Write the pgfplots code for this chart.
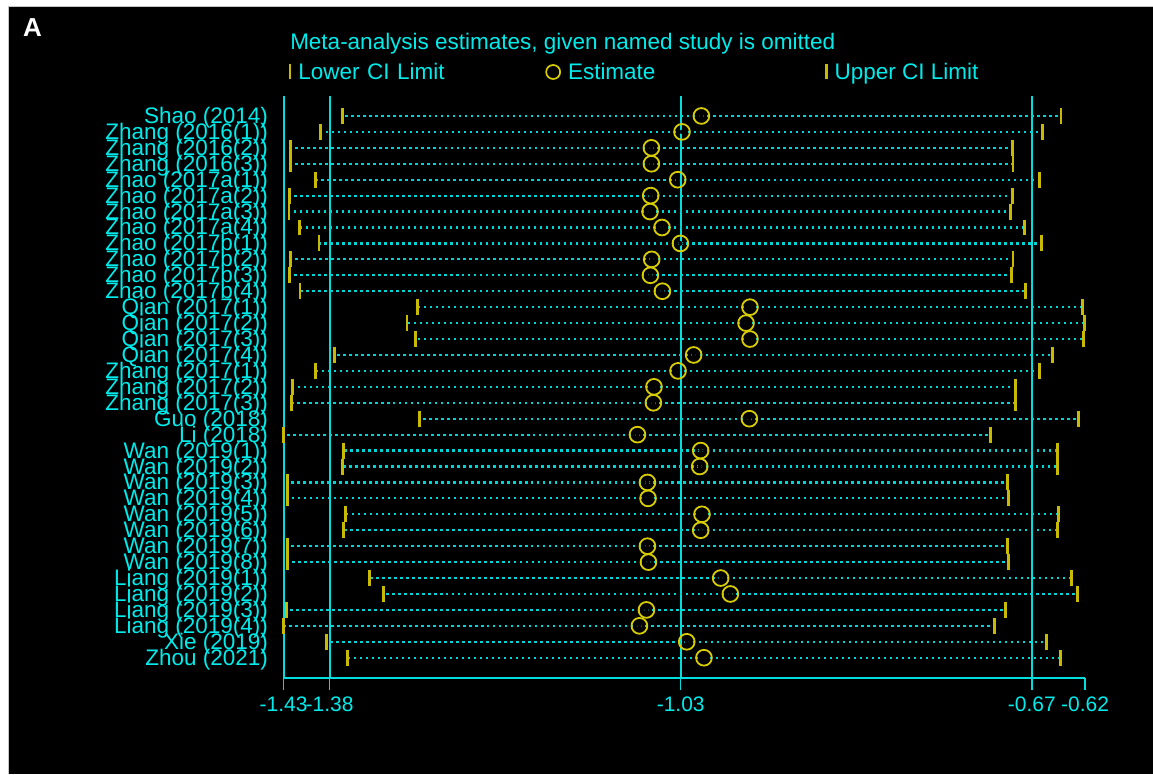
\documentclass[border=0pt]{standalone}
\usepackage{fontspec}
\setmainfont{Liberation Sans}
\usepackage{pgfplots}
\usepackage{pgfplotstable}
\pgfplotsset{compat=1.18}
\definecolor{cyanL}{RGB}{0,222,222}
\definecolor{dotc}{RGB}{0,212,212}
\definecolor{textc}{RGB}{0,235,235}
\definecolor{barc}{RGB}{200,186,0}
\definecolor{circc}{RGB}{215,205,0}

\pgfplotstableread{
row lo est up
1 -1.3704 -1.0078 -0.6445
2 -1.3926 -1.0274 -0.6627
3 -1.4233 -1.0583 -0.6933
4 -1.4233 -1.0583 -0.6930
5 -1.3974 -1.0317 -0.6661
6 -1.4239 -1.0590 -0.6936
7 -1.4246 -1.0597 -0.6951
8 -1.4142 -1.0476 -0.6809
9 -1.3943 -1.0290 -0.6640
10 -1.4233 -1.0580 -0.6930
11 -1.4243 -1.0593 -0.6943
12 -1.4135 -1.0472 -0.6805
13 -1.2946 -0.9587 -0.6229
14 -1.3052 -0.9627 -0.6206
15 -1.2967 -0.9587 -0.6216
16 -1.3782 -1.0156 -0.6529
17 -1.3974 -1.0314 -0.6658
18 -1.4213 -1.0557 -0.6900
19 -1.4223 -1.0563 -0.6906
20 -1.2923 -0.9593 -0.6267
21 -1.4300 -1.0724 -0.7153
22 -1.3694 -1.0085 -0.6479
23 -1.3708 -1.0095 -0.6479
24 -1.4264 -1.0623 -0.6984
25 -1.4264 -1.0617 -0.6974
26 -1.3678 -1.0072 -0.6466
27 -1.3694 -1.0085 -0.6476
28 -1.4264 -1.0623 -0.6984
29 -1.4260 -1.0613 -0.6971
30 -1.3431 -0.9883 -0.6334
31 -1.3294 -0.9785 -0.6274
32 -1.4270 -1.0633 -0.7001
33 -1.4297 -1.0704 -0.7112
34 -1.3870 -1.0226 -0.6587
35 -1.3651 -1.0052 -0.6448
}\datatable

\begin{document}
\begin{tikzpicture}[x=1pt,y=1pt]
\fill[white] (0,0) rectangle (1153,774);
\fill[black] (9,0) rectangle (1153,767);
\draw[gray!45, line width=1pt] (9,0) -- (9,767) -- (1153,767);
\node[anchor=base west, inner sep=0pt, text=white, font=\fontsize{26}{26}\selectfont\bfseries] at (23,737) {A};
\node[anchor=base, inner sep=0pt, text=textc, font=\fontsize{22.5}{22.5}\selectfont] at (563,724) {Meta-analysis estimates, given named study is omitted};
\begin{axis}[
  at={(283.7pt,96pt)}, anchor=south west,
  scale only axis, width=801.8pt, height=582pt,
  xmin=-1.43, xmax=-0.6201, ymin=-0.255, ymax=36.255, y dir=reverse,
  axis x line*=bottom, axis y line*=left,
  axis line style={cyanL, line width=2pt, -},
  xtick={-1.43,-1.3835,-1.0287,-0.6738,-0.6201},
  xticklabels={-1.43,-1.38,-1.03,-0.67,-0.62},
  tick align=outside, major tick length=12pt,
  x tick style={cyanL, line width=1.5pt},
  y tick style={draw=none},
  ytick={1,...,35},
  yticklabels={{Shao (2014)},{Zhang (2016(1))},{Zhang (2016(2))},{Zhang (2016(3))},{Zhao (2017a(1))},{Zhao (2017a(2))},{Zhao (2017a(3))},{Zhao (2017a(4))},{Zhao (2017b(1))},{Zhao (2017b(2))},{Zhao (2017b(3))},{Zhao (2017b(4))},{Qian (2017(1))},{Qian (2017(2))},{Qian (2017(3))},{Qian (2017(4))},{Zhang (2017(1))},{Zhang (2017(2))},{Zhang (2017(3))},{Guo (2018)},{Li (2018)},{Wan (2019(1))},{Wan (2019(2))},{Wan (2019(3))},{Wan (2019(4))},{Wan (2019(5))},{Wan (2019(6))},{Wan (2019(7))},{Wan (2019(8))},{Liang (2019(1))},{Liang (2019(2))},{Liang (2019(3))},{Liang (2019(4))},{Xie (2019)},{Zhou (2021)}},
  xticklabel style={font=\fontsize{21}{21}\selectfont, text=textc, yshift=-4pt},
  yticklabel style={font=\fontsize{22.5}{22.5}\selectfont, text=textc, anchor=base east, inner sep=0pt, xshift=-3.5pt, yshift=-7.5pt},
  clip=false,
  legend columns=3,
  legend cell align=left,
  legend style={at={(0.0063,1.0412)}, anchor=west, draw=none, fill=none, inner sep=0pt, outer sep=0pt, column sep=7pt, font=\fontsize{22.5}{22.5}\selectfont, text=textc, nodes={inner sep=0pt}},
]
\addplot[cyanL, line width=2pt, forget plot] coordinates {(-1.3835,-0.255) (-1.3835,36.255)};
\addplot[cyanL, line width=2pt, forget plot] coordinates {(-1.0287,-0.255) (-1.0287,36.255)};
\addplot[cyanL, line width=2pt, forget plot] coordinates {(-0.6738,-0.255) (-0.6738,36.255)};
\addplot[forget plot, only marks, mark=none,
  error bars/.cd, x dir=both, x explicit, error mark=none,
  error bar style={dotc, line width=2.2pt, dash pattern=on 2.4pt off 3.6pt}]
  table[x=est, y=row, x error plus expr=\thisrow{up}-\thisrow{est}, x error minus expr=\thisrow{est}-\thisrow{lo}] \datatable;
\addplot[only marks, mark=|, mark size=8pt, barc, mark options={line width=2.8pt},
  legend image code/.code={\draw[barc, line width=2.8pt] (0pt,-7.5pt) -- (0pt,7.5pt);}]
  table[x=lo, y=row] \datatable;
\addlegendentry[text width=240pt]{Lower CI Limit}
\addplot[only marks, mark=o, mark size=7.9pt, circc, mark options={line width=1.8pt},
  legend image code/.code={\draw[circc, line width=1.7pt] (0pt,0pt) circle[radius=7pt];}]
  table[x=est, y=row] \datatable;
\addlegendentry[text width=250pt]{Estimate}
\addplot[only marks, mark=|, mark size=8pt, barc, mark options={line width=2.8pt},
  legend image code/.code={\draw[barc, line width=2.8pt] (0pt,-7.5pt) -- (0pt,7.5pt);}]
  table[x=up, y=row] \datatable;
\addlegendentry{Upper CI Limit}
\end{axis}
\end{tikzpicture}
\end{document}
